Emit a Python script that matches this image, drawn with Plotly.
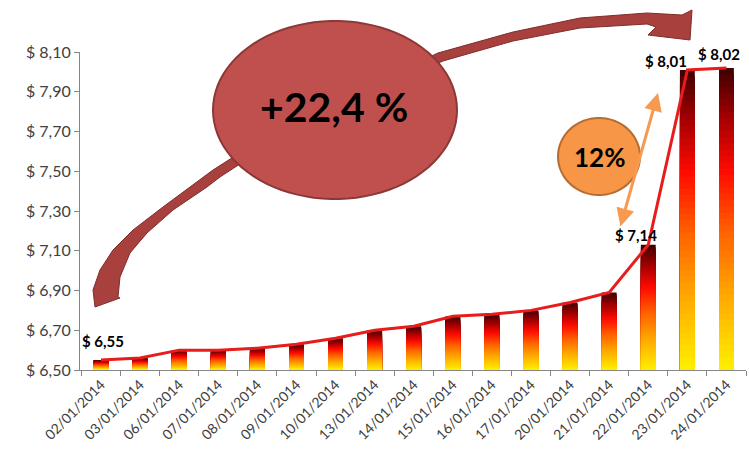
import plotly.graph_objects as go
import numpy as np

dates = ["02/01/2014", "03/01/2014", "06/01/2014", "07/01/2014", "08/01/2014",
         "09/01/2014", "10/01/2014", "13/01/2014", "14/01/2014", "15/01/2014",
         "16/01/2014", "17/01/2014", "20/01/2014", "21/01/2014", "22/01/2014",
         "23/01/2014", "24/01/2014"]
prices = [6.55, 6.56, 6.60, 6.60, 6.61, 6.63, 6.66, 6.70, 6.72, 6.77,
          6.78, 6.80, 6.84, 6.89, 7.13, 8.01, 8.02]
y_ticks = [6.50, 6.70, 6.90, 7.10, 7.30, 7.50, 7.70, 7.90, 8.10]
y_tick_labels = ["$ 6,50", "$ 6,70", "$ 6,90", "$ 7,10", "$ 7,30",
                 "$ 7,50", "$ 7,70", "$ 7,90", "$ 8,10"]
# labelled points: (index, text)
value_labels = [(0, "$ 6,55"), (14, "$ 7,14"), (15, "$ 8,01"), (16, "$ 8,02")]
total_change = "+22,4 %"
last_jump = "12%"

W, H = 749, 452
L, R, T, B = 80, 3, 52, 82
PW, PH = W - L - R, H - T - B
BASE = 6.50

def px(x):
    return (x - L) / PW

def py(y):
    return (H - B - y) / PH

def ellipse_path(cx, cy, rx, ry, n=90):
    pts = []
    for i in range(n):
        a = 2 * np.pi * i / n
        pts.append((cx + rx * np.cos(a), cy + ry * np.sin(a)))
    return "M " + " L ".join("%.5f,%.5f" % (px(x), py(y)) for x, y in pts) + " Z"

# gradient stops (fraction from bottom of bar -> colour)
stops = [(0.0, (255, 240, 0)), (0.22, (255, 176, 0)), (0.45, (255, 100, 0)),
         (0.66, (255, 10, 0)), (0.84, (160, 0, 0)), (1.0, (60, 0, 0))]

def grad(f):
    for (f0, c0), (f1, c1) in zip(stops[:-1], stops[1:]):
        if f <= f1:
            t = (f - f0) / (f1 - f0)
            c = [round(a + (b - a) * t) for a, b in zip(c0, c1)]
            return "rgb(%d,%d,%d)" % tuple(c)
    return "rgb(%d,%d,%d)" % stops[-1][1]

fig = go.Figure()
N = 48
vals = np.array(prices)
for k in range(N):
    frac = (N - k) / N
    fig.add_trace(go.Bar(
        x=dates, y=(vals - BASE) * frac, base=BASE,
        marker=dict(color=grad(frac - 0.5 / N), line=dict(width=0)),
        hoverinfo="skip", showlegend=False))

fig.add_trace(go.Scatter(
    x=dates, y=prices, mode="lines",
    line=dict(color="#e81c1c", width=3),
    hoverinfo="skip", showlegend=False))

shapes = []
# big curved arrow
outer = [(95, 307), (93, 290), (100, 270), (113, 250), (133, 230), (163, 207),
         (190, 187), (213, 170), (260, 140), (320, 108), (380, 80), (438, 53),
         (513, 32), (580, 18), (647, 13), (682, 15)]
head = [(692, 10), (690, 40), (648, 35), (656, 27)]
inner = [(647, 24), (580, 28), (513, 41), (443, 61), (380, 89), (320, 118),
         (260, 151), (220, 177), (207, 187), (173, 210), (147, 233), (130, 253),
         (120, 277), (118, 297), (120, 298)]
pts = outer + head + inner
path = "M " + " L ".join("%.5f,%.5f" % (px(x), py(y)) for x, y in pts) + " Z"
shapes.append(dict(type="path", xref="paper", yref="paper", path=path,
                   fillcolor="#a8403d", line=dict(color="#7d2e2c", width=1),
                   layer="above"))
# ellipse
shapes.append(dict(type="path", xref="paper", yref="paper",
                   path=ellipse_path(335, 110, 122, 89),
                   fillcolor="#c0504d", line=dict(color="#8c3836", width=2),
                   layer="above"))
# orange circle
shapes.append(dict(type="path", xref="paper", yref="paper",
                   path=ellipse_path(599, 156.5, 41, 38.5),
                   fillcolor="#f79646", line=dict(color="#b66d31", width=2),
                   layer="above"))

annotations = []
offsets = {0: (2, 19), 14: (-12, 10), 15: (-21, 9), 16: (-7, 14)}
for i, txt in value_labels:
    dx, dy = offsets[i]
    annotations.append(dict(x=dates[i], y=prices[i], xref="x", yref="y",
                            text="<b>%s</b>" % txt, showarrow=False,
                            xanchor="center", yanchor="middle",
                            xshift=dx, yshift=dy,
                            font=dict(family="Lato", size=15, color="#000")))
annotations.append(dict(x=px(334), y=py(107), xref="paper", yref="paper",
                        xanchor="center", yanchor="middle",
                        text="<b>%s</b>" % total_change, showarrow=False,
                        font=dict(family="Lato", size=41, color="#000")))
annotations.append(dict(x=px(599), y=py(157), xref="paper", yref="paper",
                        xanchor="center", yanchor="middle",
                        text="<b>%s</b>" % last_jump, showarrow=False,
                        font=dict(family="Lato", size=26, color="#000")))
annotations.append(dict(x=px(658), y=py(93), xref="paper", yref="paper",
                        ax=-38, ay=135, text="", showarrow=True,
                        arrowside="end+start", arrowhead=2, startarrowhead=2,
                        arrowsize=1.2, startarrowsize=1.2,
                        arrowwidth=3, arrowcolor="#f59a50"))

fig.update_layout(
    width=W, height=H, margin=dict(l=L, r=R, t=T, b=B, autoexpand=False),
    paper_bgcolor="white", plot_bgcolor="white",
    barmode="overlay", bargap=0.62,
    shapes=shapes, annotations=annotations,
    font=dict(family="Lato", color="#404040"),
    xaxis=dict(type="category", showgrid=False, showline=True,
               linecolor="#868686", linewidth=1, ticks="outside",
               tickson="boundaries", ticklen=5, tickcolor="#868686",
               tickangle=-45, tickfont=dict(size=14, color="#404040"),
               automargin=False, fixedrange=True),
    yaxis=dict(range=[6.5, 8.1], tickvals=y_ticks, ticktext=y_tick_labels,
               showgrid=False, zeroline=False, showline=True,
               linecolor="#868686", linewidth=1, ticks="outside",
               ticklen=5, tickcolor="#868686",
               tickfont=dict(size=16, color="#404040"),
               automargin=False, fixedrange=True),
)

fig.write_html("out.html", config={"displayModeBar": False})
